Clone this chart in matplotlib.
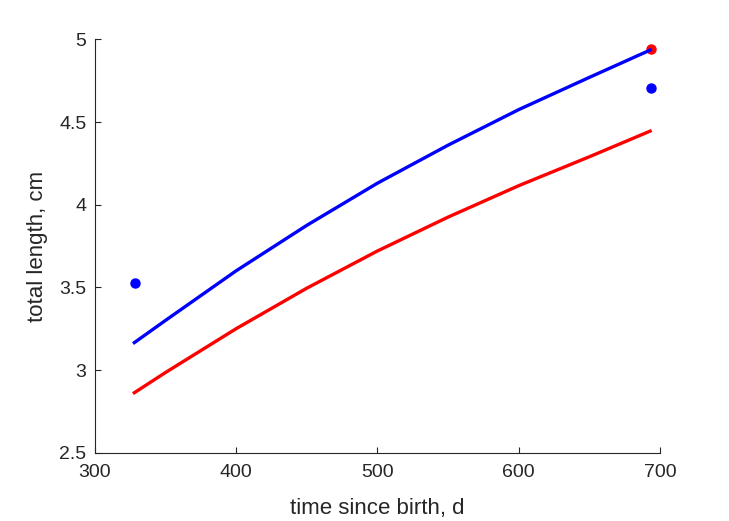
import numpy as np
import matplotlib.pyplot as plt

plt.rcParams['font.family'] = ['Liberation Sans', 'DejaVu Sans']

# model curves
t_fit = [328, 350, 400, 450, 500, 550, 600, 650, 693]
L_blue = [3.166, 3.30, 3.60, 3.875, 4.13, 4.36, 4.575, 4.77, 4.935]
L_red = [2.863, 2.985, 3.25, 3.495, 3.72, 3.925, 4.115, 4.29, 4.445]

# observed points
t_obs_blue = [328.5, 693.5]
L_obs_blue = [3.528, 4.707]
t_obs_red = [693.5]
L_obs_red = [4.943]

fig = plt.figure(figsize=(7.29, 5.21), dpi=100)
ax = fig.add_axes([0.13, 0.131, 0.7754, 0.7935])

ax.plot(t_obs_red, L_obs_red, 'o', color='red', ms=6.5, zorder=2)
ax.plot(t_obs_blue, L_obs_blue, 'o', color='blue', ms=6.5, zorder=2)
ax.plot(t_fit, L_blue, '-', color='blue', lw=2.4, zorder=3)
ax.plot(t_fit, L_red, '-', color='red', lw=2.4, zorder=3)

ax.set_xlim(300, 700)
ax.set_ylim(2.5, 5)
ax.set_xticks([300, 400, 500, 600, 700])
ax.set_yticks([2.5, 3, 3.5, 4, 4.5, 5])
ax.set_yticklabels(['2.5', '3', '3.5', '4', '4.5', '5'])

for s in ['top', 'right']:
    ax.spines[s].set_visible(False)
for s in ['left', 'bottom']:
    ax.spines[s].set_color('#262626')
    ax.spines[s].set_linewidth(0.8)
ax.tick_params(direction='in', length=4.5, width=0.8, colors='#262626',
               labelsize=14, pad=6)
ax.tick_params(axis='x', pad=8)

ax.set_xlabel('time since birth, d', fontsize=16, color='#262626', labelpad=12)
ax.set_ylabel('total length, cm', fontsize=16, color='#262626', labelpad=8)

fig.savefig('out.png', dpi=100)
